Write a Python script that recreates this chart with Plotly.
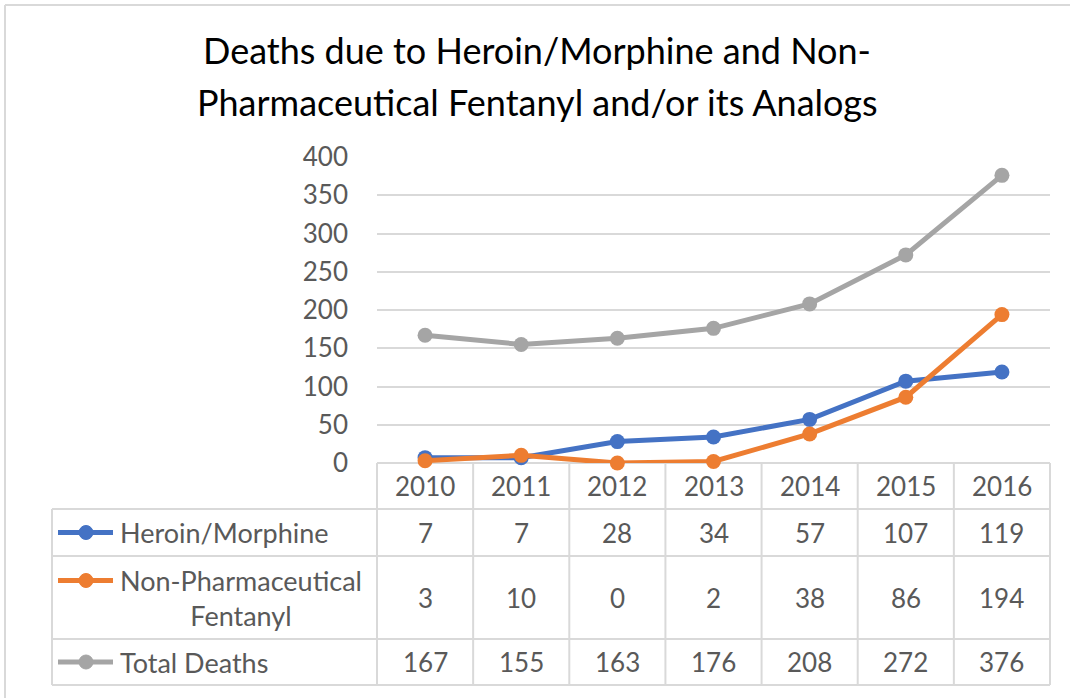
import plotly.graph_objects as go

years = ["2010", "2011", "2012", "2013", "2014", "2015", "2016"]
heroin = [7, 7, 28, 34, 57, 107, 119]
fentanyl = [3, 10, 0, 2, 38, 86, 194]
total = [167, 155, 163, 176, 208, 272, 376]
series_names = ["Heroin/Morphine", "Non-Pharmaceutical<br>Fentanyl", "Total Deaths"]
series_values = [heroin, fentanyl, total]
colors = ["#4472C4", "#ED7D31", "#A5A5A5"]
title_lines = ["Deaths due to Heroin/Morphine and Non-", "Pharmaceutical Fentanyl and/or its Analogs"]

W, H = 1070, 698
FONT = "Lato"
TXT = "#595959"
GRID = "#D9D9D9"


def px(x):
    return x / W


def py(y):
    return (H - y) / H


# geometry (pixels)
x0, x1 = 377, 1050
y_top, y_zero = 157, 463
tbl_left = 52
row_bounds = [463, 509, 556, 639, 685]
ncol = len(years)
colw = (x1 - x0) / ncol

fig = go.Figure()
for name, vals, c in zip(series_names, series_values, colors):
    fig.add_trace(go.Scatter(
        x=years, y=vals, mode="lines+markers", name=name.replace("<br>", " "),
        line=dict(color=c, width=5), marker=dict(color=c, size=15),
        showlegend=False, cliponaxis=False))

shapes = []
annotations = []

# outer border
shapes.append(dict(type="line", xref="paper", yref="paper", x0=px(5), x1=px(1070), y0=py(5), y1=py(5),
                   line=dict(color="#D9D9D9", width=2)))
shapes.append(dict(type="line", xref="paper", yref="paper", x0=px(5), x1=px(5), y0=py(5), y1=py(698),
                   line=dict(color="#D9D9D9", width=2)))

line_style = dict(color=GRID, width=2)
# table horizontal lines
shapes.append(dict(type="line", xref="paper", yref="paper", x0=px(x0), x1=px(x1),
                   y0=py(row_bounds[0]), y1=py(row_bounds[0]), line=line_style, layer="below"))
for yb in row_bounds[1:]:
    shapes.append(dict(type="line", xref="paper", yref="paper", x0=px(tbl_left), x1=px(x1),
                       y0=py(yb), y1=py(yb), line=line_style, layer="below"))
# vertical lines
shapes.append(dict(type="line", xref="paper", yref="paper", x0=px(tbl_left), x1=px(tbl_left),
                   y0=py(row_bounds[1]), y1=py(row_bounds[-1]), line=line_style))
for i in range(ncol + 1):
    xv = x0 + i * colw
    shapes.append(dict(type="line", xref="paper", yref="paper", x0=px(xv), x1=px(xv),
                       y0=py(row_bounds[0]), y1=py(row_bounds[-1]), line=line_style))

# header years
for i, yr in enumerate(years):
    annotations.append(dict(text=yr, xref="paper", yref="paper", x=px(x0 + (i + 0.5) * colw),
                            y=py((row_bounds[0] + row_bounds[1]) / 2), showarrow=False,
                            font=dict(family=FONT, size=26, color=TXT), xanchor="center", yanchor="middle"))

# rows
key_y_offsets = [0, -17, 0]
for r, (name, vals, c) in enumerate(zip(series_names, series_values, colors)):
    yc = (row_bounds[r + 1] + row_bounds[r + 2]) / 2
    for i, v in enumerate(vals):
        annotations.append(dict(text=str(v), xref="paper", yref="paper", x=px(x0 + (i + 0.5) * colw),
                                y=py(yc), showarrow=False,
                                font=dict(family=FONT, size=26, color=TXT), xanchor="center", yanchor="middle"))
    annotations.append(dict(text=name, xref="paper", yref="paper", x=px(118), y=py(yc), showarrow=False,
                            align="center", font=dict(family=FONT, size=27, color=TXT),
                            xanchor="left", yanchor="middle"))
    ky = yc + key_y_offsets[r]
    shapes.append(dict(type="line", xref="paper", yref="paper", x0=px(58), x1=px(113), y0=py(ky), y1=py(ky),
                       line=dict(color=c, width=5)))
    shapes.append(dict(type="circle", xref="paper", yref="paper", x0=px(79), x1=px(93),
                       y0=py(ky + 7), y1=py(ky - 7), fillcolor=c, line=dict(color=c, width=1)))

# title
for k, t in enumerate(title_lines):
    annotations.append(dict(text=t, xref="paper", yref="paper", x=px(537), y=py(50 + 52 * k), showarrow=False,
                            font=dict(family=FONT, size=36, color="#000000"), xanchor="center", yanchor="middle"))

fig.update_layout(
    width=W, height=H, margin=dict(l=0, r=0, t=0, b=0, pad=0, autoexpand=False),
    paper_bgcolor="white", plot_bgcolor="white",
    xaxis=dict(domain=[px(x0), px(x1)], type="category", range=[-0.5, ncol - 0.5], automargin=False,
               showticklabels=False, showgrid=False, zeroline=False, showline=False, fixedrange=True),
    yaxis=dict(domain=[py(y_zero), py(y_top)], range=[0, 400], tickvals=[0, 50, 100, 150, 200, 250, 300, 350, 400],
               showgrid=True, gridcolor=GRID, gridwidth=2, zeroline=False, showline=False, automargin=False,
               tickfont=dict(family=FONT, size=26, color=TXT), ticks="", ticklabelstandoff=28),
    shapes=shapes, annotations=annotations,
)

fig.write_html("out.html", config={"displayModeBar": False},
               post_script="document.body.style.margin='0';")
